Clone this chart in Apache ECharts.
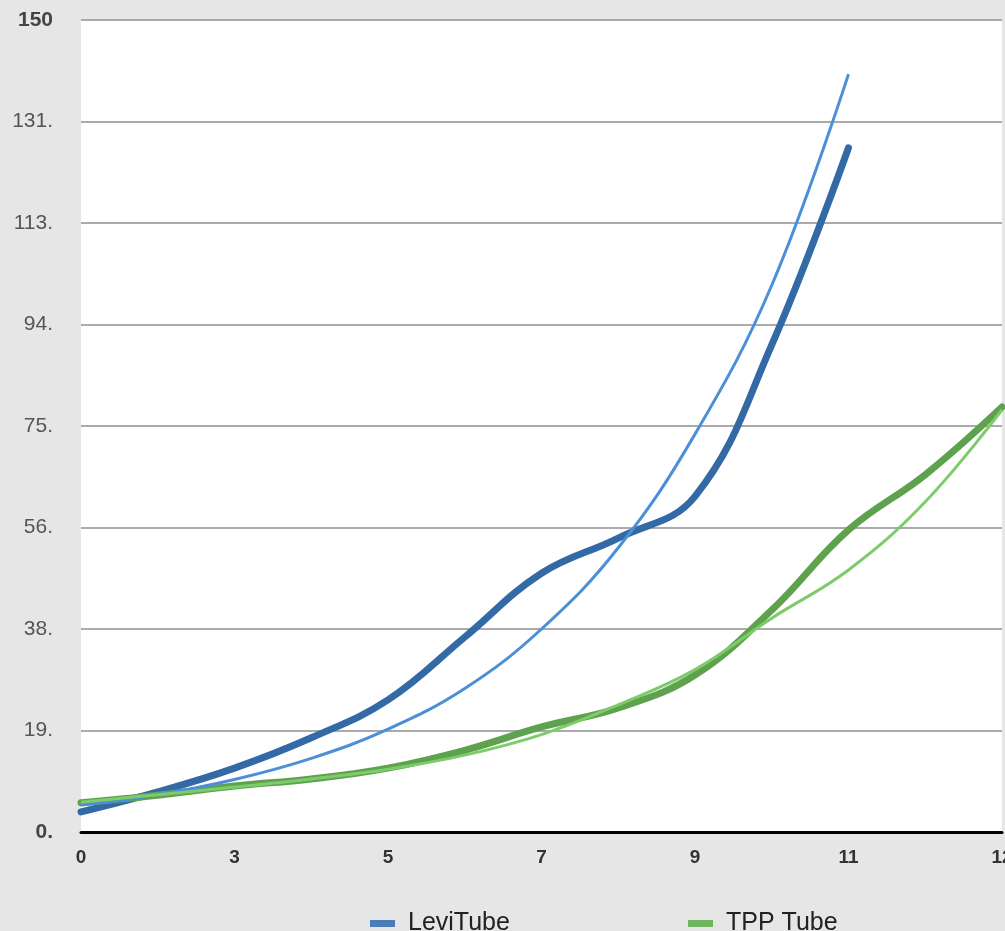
<!DOCTYPE html>
<html>
<head>
<meta charset="utf-8">
<script src="https://cdn.jsdelivr.net/npm/echarts@6/dist/echarts.min.js"></script>
<style>
  html, body { margin: 0; padding: 0; background: #e6e6e6; }
  #chart { width: 1005px; height: 931px; }
</style>
</head>
<body>
<div id="chart"></div>
<script>
// ---- data ----
const leviX = [0, 1, 2, 3, 4, 5, 6, 7, 8, 9, 10];
const leviValues = [3.7, 7.4, 11.8, 17.4, 24.4, 36.0, 47.8, 54.3, 62.0, 90.0, 126.4];
const leviTrend = [5.0, 6.9, 9.7, 13.6, 19.0, 26.5, 37.5, 52.5, 73.5, 101.0, 140.0];

const tppX = [0, 1, 2, 3, 4, 5, 6, 7, 8, 9, 10, 11, 12];
const tppValues = [5.4, 6.8, 8.5, 9.8, 11.8, 15.1, 19.4, 22.9, 29.0, 41.0, 55.8, 66.0, 78.5];
const tppTrend = [5.5, 6.9, 8.3, 9.8, 11.6, 14.2, 18.0, 23.5, 30.0, 39.5, 48.4, 61.0, 78.0];

const xTickLabels = ['0', '3', '5', '7', '9', '11', '12'];
const yTickLabels = ['0.', '19.', '38.', '56.', '75.', '94.', '113.', '131.', '150'];
const seriesNames = ['LeviTube', 'TPP Tube'];

const pairs = (xs, ys) => xs.map((x, i) => [x, ys[i]]);

const chart = echarts.init(document.getElementById('chart'));
chart.setOption({
  backgroundColor: '#e6e6e6',
  animation: false,
  grid: {
    left: 81, right: 3, top: 20, bottom: 99,
    containLabel: false, outerBoundsMode: 'none',
    show: true, backgroundColor: '#ffffff', borderWidth: 0
  },
  legend: [
    {
      data: [seriesNames[0]], left: 365, top: 906,
      icon: 'rect', itemWidth: 25, itemHeight: 7, itemGap: 18,
      textStyle: { fontFamily: 'Liberation Sans', fontSize: 25, color: '#222', lineHeight: 25, padding: [0, 0, 0, 8] }
    },
    {
      data: [seriesNames[1]], left: 683, top: 906,
      icon: 'rect', itemWidth: 25, itemHeight: 7, itemGap: 18,
      textStyle: { fontFamily: 'Liberation Sans', fontSize: 25, color: '#222', lineHeight: 25, padding: [0, 0, 0, 8] }
    }
  ],
  xAxis: {
    type: 'value', min: 0, max: 12, interval: 2,
    axisLine: { show: true, lineStyle: { color: '#000', width: 3 } },
    axisTick: { show: false },
    splitLine: { show: false },
    axisLabel: {
      margin: 16,
      fontFamily: 'Liberation Sans', fontSize: 19, fontWeight: 'bold', color: '#333',
      formatter: v => xTickLabels[Math.round(v / 2)]
    }
  },
  yAxis: {
    type: 'value', min: 0, max: 150, interval: 18.75,
    axisLine: { show: false },
    axisTick: { show: false },
    splitLine: { show: true, lineStyle: { color: '#aaaaaa', width: 2 } },
    axisLabel: {
      margin: 28,
      fontFamily: 'Liberation Sans', fontSize: 21, color: '#555',
      formatter: v => {
        const i = Math.round(v / 18.75);
        const t = yTickLabels[i];
        return (i === 0 || i === 8) ? '{b|' + t + '}' : t;
      },
      rich: { b: { fontFamily: 'Liberation Sans', fontSize: 21, fontWeight: 'bold', color: '#444' } }
    }
  },
  series: [
    {
      name: seriesNames[0], type: 'line', smooth: 0.4, showSymbol: false,
      data: pairs(leviX, leviValues),
      color: '#4a7cb8',
      lineStyle: { color: '#336aa6', width: 7, cap: 'round' }, z: 2
    },
    {
      name: seriesNames[1], type: 'line', smooth: 0.4, showSymbol: false,
      data: pairs(tppX, tppValues),
      color: '#6db55e',
      lineStyle: { color: '#5ea24e', width: 7, cap: 'round' }, z: 2
    },
    {
      name: 'LeviTube trend', type: 'line', smooth: 0.4, showSymbol: false,
      data: pairs(leviX, leviTrend),
      lineStyle: { color: '#4b8fd8', width: 3 }, z: 3
    },
    {
      name: 'TPP Tube trend', type: 'line', smooth: 0.4, showSymbol: false,
      data: pairs(tppX, tppTrend),
      lineStyle: { color: '#7dcb6b', width: 3 }, z: 3
    }
  ]
});
</script>
</body>
</html>
